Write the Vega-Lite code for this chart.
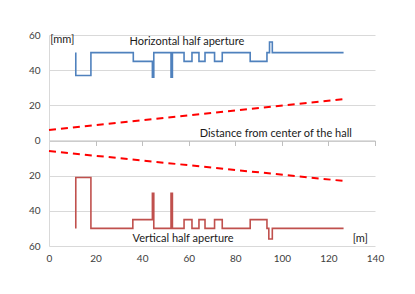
{
  "$schema": "https://vega.github.io/schema/vega-lite/v6.json",
  "width": 326,
  "height": 211,
  "autosize": "none",
  "padding": {"left": 49, "top": 35, "right": 40, "bottom": 48},
  "background": "white",
  "config": {
    "view": {"stroke": null},
    "font": "Lato",
    "axis": {"labelFont": "Lato", "labelColor": "#404040", "labelFontSize": 10, "labelOverlap": false, "labelFlush": false}
  },
  "datasets": {
    "steps": [
      {"s": "H", "i": 1, "x": 11.5, "y": 50}, {"s": "H", "i": 2, "x": 11.5, "y": 37},
      {"s": "H", "i": 3, "x": 18, "y": 37}, {"s": "H", "i": 4, "x": 18, "y": 50},
      {"s": "H", "i": 5, "x": 36.2, "y": 50}, {"s": "H", "i": 6, "x": 36.2, "y": 45},
      {"s": "H", "i": 7, "x": 44.4, "y": 45}, {"s": "H", "i": 8, "x": 44.4, "y": 36},
      {"s": "H", "i": 9, "x": 45, "y": 36}, {"s": "H", "i": 10, "x": 45, "y": 50},
      {"s": "H", "i": 11, "x": 52.4, "y": 50}, {"s": "H", "i": 12, "x": 52.4, "y": 36},
      {"s": "H", "i": 13, "x": 53, "y": 36}, {"s": "H", "i": 14, "x": 53, "y": 50},
      {"s": "H", "i": 15, "x": 58, "y": 50}, {"s": "H", "i": 16, "x": 58, "y": 45},
      {"s": "H", "i": 17, "x": 61.4, "y": 45}, {"s": "H", "i": 18, "x": 61.4, "y": 50},
      {"s": "H", "i": 19, "x": 64.4, "y": 50}, {"s": "H", "i": 20, "x": 64.4, "y": 45},
      {"s": "H", "i": 21, "x": 67, "y": 45}, {"s": "H", "i": 22, "x": 67, "y": 50},
      {"s": "H", "i": 23, "x": 71.1, "y": 50}, {"s": "H", "i": 24, "x": 71.1, "y": 45},
      {"s": "H", "i": 25, "x": 74.4, "y": 45}, {"s": "H", "i": 26, "x": 74.4, "y": 50},
      {"s": "H", "i": 27, "x": 86.4, "y": 50}, {"s": "H", "i": 28, "x": 86.4, "y": 45},
      {"s": "H", "i": 29, "x": 93.6, "y": 45}, {"s": "H", "i": 30, "x": 93.6, "y": 50},
      {"s": "H", "i": 31, "x": 94.7, "y": 50}, {"s": "H", "i": 32, "x": 94.7, "y": 56},
      {"s": "H", "i": 33, "x": 95.9, "y": 56}, {"s": "H", "i": 34, "x": 95.9, "y": 50},
      {"s": "H", "i": 35, "x": 126.5, "y": 50},
      {"s": "V", "i": 1, "x": 11.5, "y": -50}, {"s": "V", "i": 2, "x": 11.5, "y": -21},
      {"s": "V", "i": 3, "x": 18, "y": -21}, {"s": "V", "i": 4, "x": 18, "y": -50},
      {"s": "V", "i": 5, "x": 36, "y": -50}, {"s": "V", "i": 6, "x": 36, "y": -45},
      {"s": "V", "i": 7, "x": 44.4, "y": -45}, {"s": "V", "i": 8, "x": 44.4, "y": -30},
      {"s": "V", "i": 9, "x": 45, "y": -30}, {"s": "V", "i": 10, "x": 45, "y": -50},
      {"s": "V", "i": 11, "x": 52.4, "y": -50}, {"s": "V", "i": 12, "x": 52.4, "y": -30},
      {"s": "V", "i": 13, "x": 53, "y": -30}, {"s": "V", "i": 14, "x": 53, "y": -50},
      {"s": "V", "i": 15, "x": 58, "y": -50}, {"s": "V", "i": 16, "x": 58, "y": -45},
      {"s": "V", "i": 17, "x": 61.4, "y": -45}, {"s": "V", "i": 18, "x": 61.4, "y": -50},
      {"s": "V", "i": 19, "x": 64.4, "y": -50}, {"s": "V", "i": 20, "x": 64.4, "y": -45},
      {"s": "V", "i": 21, "x": 67, "y": -45}, {"s": "V", "i": 22, "x": 67, "y": -50},
      {"s": "V", "i": 23, "x": 71.1, "y": -50}, {"s": "V", "i": 24, "x": 71.1, "y": -45},
      {"s": "V", "i": 25, "x": 74.4, "y": -45}, {"s": "V", "i": 26, "x": 74.4, "y": -50},
      {"s": "V", "i": 27, "x": 86.4, "y": -50}, {"s": "V", "i": 28, "x": 86.4, "y": -45},
      {"s": "V", "i": 29, "x": 93.6, "y": -45}, {"s": "V", "i": 30, "x": 93.6, "y": -50},
      {"s": "V", "i": 31, "x": 94.4, "y": -50}, {"s": "V", "i": 32, "x": 94.4, "y": -56},
      {"s": "V", "i": 33, "x": 95.9, "y": -56}, {"s": "V", "i": 34, "x": 95.9, "y": -50},
      {"s": "V", "i": 35, "x": 126.5, "y": -50}
    ],
    "dist": [
      {"s": "D1", "x": 0, "y": 6}, {"s": "D1", "x": 126.5, "y": 23.5},
      {"s": "D2", "x": 0, "y": -6}, {"s": "D2", "x": 126.5, "y": -23}
    ],
    "labels": [
      {"t": "[mm]", "x": 5.7, "y": 57.2},
      {"t": "Horizontal half aperture", "x": 59.2, "y": 56},
      {"t": "Distance from center of the hall", "x": 97.4, "y": 3.8},
      {"t": "Vertical half aperture", "x": 57.6, "y": -56.3},
      {"t": "[m]", "x": 133.7, "y": -56.3}
    ]
  },
  "encoding": {
    "x": {"field": "x", "type": "quantitative", "scale": {"domain": [0, 140]},
      "axis": {"orient": "bottom", "values": [0, 20, 40, 60, 80, 100, 120, 140], "offset": -105.5, "grid": false, "domain": true, "ticks": true, "domainColor": "#bfbfbf", "tickColor": "#bfbfbf", "tickSize": 5, "labelPadding": 107.5, "title": null}},
    "y": {"field": "y", "type": "quantitative", "scale": {"domain": [-60, 60]},
      "axis": {"values": [-60, -40, -20, 0, 20, 40, 60], "labelExpr": "abs(datum.value)", "ticks": false, "domainColor": "#d9d9d9", "gridColor": "#d9d9d9", "labelPadding": 9, "title": null}}
  },
  "layer": [
    {
      "mark": {"type": "rule", "color": "#d9d9d9", "strokeWidth": 1},
      "encoding": {
        "x": {"datum": -8.3, "type": "quantitative"},
        "x2": {"datum": 143.4},
        "y": {"datum": 63.7, "type": "quantitative"}
      }
    },
    {
      "mark": {"type": "rule", "color": "#d9d9d9", "strokeWidth": 1},
      "encoding": {
        "x": {"datum": -8.3, "type": "quantitative"},
        "x2": {"datum": 143.4},
        "y": {"datum": -70, "type": "quantitative"}
      }
    },
    {
      "data": {"name": "dist"},
      "mark": {"type": "line", "color": "#ff0000", "strokeWidth": 2, "strokeDash": [7, 5]},
      "encoding": {
        "detail": {"field": "s"}
      }
    },
    {
      "data": {"name": "steps"},
      "mark": {"type": "line", "strokeWidth": 1.6},
      "encoding": {
        "order": {"field": "i"},
        "color": {"field": "s", "type": "nominal", "scale": {"domain": ["H", "V"], "range": ["#4f81bd", "#c0504d"]}, "legend": null}
      }
    },
    {
      "data": {"name": "labels"},
      "mark": {"type": "text", "fontSize": 11, "color": "#1a1a1a", "baseline": "middle", "align": "center"},
      "encoding": {
        "text": {"field": "t"}
      }
    }
  ]
}
